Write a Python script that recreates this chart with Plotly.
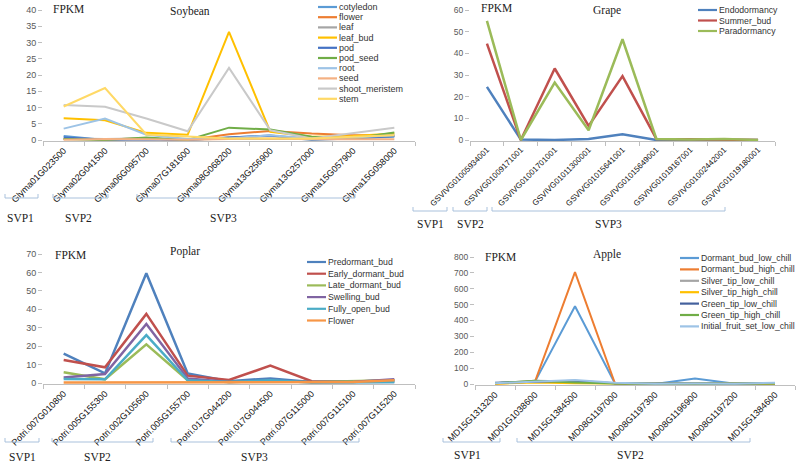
import plotly.graph_objects as go

W, H = 800, 464

# ---------------- DATA ----------------
soy_genes = ["Glyma01G023500", "Glyma02G041500", "Glyma06G095700", "Glyma07G181600",
             "Glyma08G068200", "Glyma13G256900", "Glyma13G257000", "Glyma15G057900",
             "Glyma15G058000"]
soy_cotyledon = [1.2, 0.0, 0.2, 0.0, 0.8, 1.3, 0.0, 0.5, 1.0]
soy_flower = [0.3, 0.2, 0.5, 0.0, 1.8, 2.8, 2.0, 1.5, 1.5]
soy_leaf = [0.5, 0.3, 0.5, 0.1, 0.5, 0.3, 0.5, 0.8, 1.2]
soy_leaf_bud = [6.7, 6.1, 2.2, 1.6, 33.3, 2.5, 1.0, 1.2, 2.0]
soy_pod = [0.8, 0.1, 0.2, 0.0, 0.8, 1.4, 0.2, 0.5, 1.2]
soy_pod_seed = [0.3, 0.0, 0.8, 0.0, 3.8, 3.2, 1.0, 0.5, 2.3]
soy_root = [3.5, 6.6, 1.6, 0.3, 0.5, 1.5, 0.5, 0.8, 1.5]
soy_seed = [0.1, 0.3, 0.2, 0.1, 0.3, 0.5, 0.2, 0.3, 0.2]
soy_shoot_meristem = [10.8, 10.2, 6.6, 2.7, 22.2, 3.0, 0.5, 2.2, 3.8]
soy_stem = [10.3, 16.0, 1.7, 1.0, 0.5, 0.5, 0.5, 1.0, 1.5]

grape_genes = ["GSVIVG01005934001", "GSVIVG01009171001", "GSVIVG01001701001",
               "GSVIVG01011300001", "GSVIVG01015641001", "GSVIVG01015649001",
               "GSVIVG01019167001", "GSVIVG01002442001", "GSVIVG01019180001"]
grape_endodormancy = [24.5, 0.2, 0.0, 0.5, 2.7, 0.0, 0.0, 0.0, 0.0]
grape_summer_bud = [44.5, 0.0, 33.0, 6.5, 29.5, 0.5, 0.3, 0.3, 0.0]
grape_paradormancy = [55.0, 0.0, 26.5, 4.5, 46.5, 0.5, 0.2, 0.5, 0.0]

poplar_genes = ["Potri.007G010800", "Potri.005G155300", "Potri.002G105600",
                "Potri.005G155700", "Potri.017G044200", "Potri.017G044500",
                "Potri.007G115000", "Potri.007G115100", "Potri.007G115200"]
pop_predormant = [16.0, 5.2, 59.5, 5.2, 1.0, 2.5, 0.5, 0.5, 0.5]
pop_early_dormant = [12.5, 8.5, 37.5, 4.0, 1.6, 9.4, 1.0, 0.8, 1.5]
pop_late_dormant = [5.8, 2.0, 21.0, 1.5, 0.5, 1.0, 0.5, 1.0, 1.5]
pop_swelling = [3.0, 4.9, 32.0, 2.5, 0.5, 1.0, 0.5, 0.5, 2.0]
pop_fully_open = [2.2, 2.0, 26.0, 1.5, 0.5, 1.5, 0.3, 0.5, 0.5]
pop_flower = [0.3, 0.3, 0.3, 0.3, 0.3, 0.3, 0.3, 0.5, 1.5]

apple_genes = ["MD15G1313200", "MD01G1038600", "MD15G1384500", "MD08G1197000",
               "MD08G1197300", "MD08G1196900", "MD08G1197200", "MD15G1384600"]
ap_dormant_low = [5, 15, 490, 3, 0, 35, 2, 5]
ap_dormant_high = [2, 15, 705, 3, 1, 2, 1, 3]
ap_silver_low = [5, 20, 15, 5, 2, 2, 2, 5]
ap_silver_high = [2, 10, 5, 2, 1, 1, 1, 2]
ap_green_low = [8, 12, 20, 5, 2, 3, 2, 5]
ap_green_high = [5, 20, 10, 3, 1, 2, 1, 3]
ap_initial_fruit = [5, 15, 25, 8, 2, 3, 2, 8]

# ---------------- STYLE ----------------
SERIF = "Liberation Serif, Times New Roman, serif"
SANS = "Liberation Sans, Arial, sans-serif"

panels = [
    dict(name="Soybean", genes=soy_genes, ymax=40, dtick=5,
         xpx=(43, 415), ypx=(140, 10), lw=2, tickfs=9, catfs=9, legfs=9,
         series=[("cotyledon", soy_cotyledon, "#5B9BD5"),
                 ("flower", soy_flower, "#ED7D31"),
                 ("leaf", soy_leaf, "#A5A5A5"),
                 ("leaf_bud", soy_leaf_bud, "#FFC000"),
                 ("pod", soy_pod, "#4472C4"),
                 ("pod_seed", soy_pod_seed, "#70AD47"),
                 ("root", soy_root, "#9DC3E6"),
                 ("seed", soy_seed, "#F4B183"),
                 ("shoot_meristem", soy_shoot_meristem, "#C9C9C9"),
                 ("stem", soy_stem, "#FFD966")],
         leg=(318, 7, 10.2), title=(190, 12), fpkm=(51, 9),
         brackets=[("SVP1", 5, 38, 20), ("SVP2", 53, 108, 78), ("SVP3", 137, 355, 223)],
         by=198, bly=218),
    dict(name="Grape", genes=grape_genes, ymax=60, dtick=10,
         xpx=(470, 775), ypx=(140, 10), lw=2.5, tickfs=8.5, catfs=8, legfs=8.7,
         series=[("Endodormancy", grape_endodormancy, "#4F81BD"),
                 ("Summer_bud", grape_summer_bud, "#C0504D"),
                 ("Paradormancy", grape_paradormancy, "#9BBB59")],
         leg=(698, 10, 10.5), title=(607, 10), fpkm=(479, 8),
         brackets=[("SVP1", 413, 447, 430), ("SVP2", 453, 487, 470), ("SVP3", 492, 725, 608)],
         by=211, bly=224),
    dict(name="Poplar", genes=poplar_genes, ymax=70, dtick=10,
         xpx=(43, 415), ypx=(383, 254), lw=2.5, tickfs=9, catfs=9, legfs=8.7,
         series=[("Predormant_bud", pop_predormant, "#4F81BD"),
                 ("Early_dormant_bud", pop_early_dormant, "#C0504D"),
                 ("Late_dormant_bud", pop_late_dormant, "#9BBB59"),
                 ("Swelling_bud", pop_swelling, "#8064A2"),
                 ("Fully_open_bud", pop_fully_open, "#4BACC6"),
                 ("Flower", pop_flower, "#F79646")],
         leg=(307, 262, 11.7), title=(185, 251), fpkm=(53, 255),
         brackets=[("SVP1", 5, 39, 22), ("SVP2", 52, 153, 97), ("SVP3", 171, 359, 255)],
         by=442, bly=457),
    dict(name="Apple", genes=apple_genes, ymax=800, dtick=100,
         xpx=(475, 795), ypx=(384, 257), lw=2, tickfs=8.5, catfs=9, legfs=8.7,
         series=[("Dormant_bud_low_chill", ap_dormant_low, "#5B9BD5"),
                 ("Dormant_bud_high_chill", ap_dormant_high, "#ED7D31"),
                 ("Silver_tip_low_chill", ap_silver_low, "#A5A5A5"),
                 ("Silver_tip_high_chill", ap_silver_high, "#FFC000"),
                 ("Green_tip_low_chill", ap_green_low, "#44619D"),
                 ("Green_tip_high_chill", ap_green_high, "#70AD47"),
                 ("Initial_fruit_set_low_chill", ap_initial_fruit, "#9DC3E6")],
         leg=(680, 258, 11.4), title=(607, 254), fpkm=(483, 257),
         brackets=[("SVP1", 443, 500, 467), ("SVP2", 517, 750, 630)],
         by=442, bly=455),
]


def px(x):
    return x / W


def py(y):
    return 1 - y / H


fig = go.Figure()
layout = dict(template="none", width=W, height=H, margin=dict(l=0, r=0, t=0, b=0, pad=0),
              paper_bgcolor="white", plot_bgcolor="white", showlegend=False,
              autosize=False)
shapes, annos = [], []
AXC = "#BFBFBF"

for i, p in enumerate(panels, start=1):
    xa = "x" if i == 1 else f"x{i}"
    ya = "y" if i == 1 else f"y{i}"
    xk = "xaxis" if i == 1 else f"xaxis{i}"
    yk = "yaxis" if i == 1 else f"yaxis{i}"
    n = len(p["genes"])
    y0px, y1px = p["ypx"]
    pad = 1.0  # px below zero so lines at 0 are not clipped
    unit = (y0px - y1px) / p["ymax"]
    for name, vals, col in p["series"]:
        fig.add_trace(go.Scatter(x=p["genes"], y=vals, mode="lines", name=name,
                                 line=dict(color=col, width=p["lw"]),
                                 xaxis=xa, yaxis=ya, hoverinfo="x+y+name"))
    layout[xk] = dict(domain=[px(p["xpx"][0]), px(p["xpx"][1])], anchor=ya,
                      type="category", range=[-0.5, n - 0.5], automargin=False,
                      tickson="boundaries", ticks="outside", ticklen=4,
                      tickcolor=AXC, showline=True, linecolor=AXC, linewidth=1,
                      showgrid=False, zeroline=False, tickangle=-45,
                      tickfont=dict(family=SANS, size=p["catfs"], color="#111"))
    layout[yk] = dict(domain=[py(y0px + pad), py(y1px)], anchor=xa, automargin=False,
                      range=[-pad / unit, p["ymax"]], dtick=p["dtick"], tick0=0,
                      ticks="outside", ticklen=4, tickcolor=AXC,
                      showline=False, showgrid=False, zeroline=False,
                      tickfont=dict(family=SANS, size=p["tickfs"], color="#595959"))
    # titles
    annos.append(dict(text=p["name"], x=px(p["title"][0]), y=py(p["title"][1]),
                      xref="paper", yref="paper", xanchor="center", yanchor="middle",
                      showarrow=False, font=dict(family=SERIF, size=11.5, color="#222")))
    annos.append(dict(text="FPKM", x=px(p["fpkm"][0]), y=py(p["fpkm"][1]),
                      xref="paper", yref="paper", xanchor="left", yanchor="middle",
                      showarrow=False, font=dict(family=SERIF, size=11.5, color="#222")))
    # legend (drawn as line samples + labels)
    lx, ly, ls = p["leg"]
    for k, (name, vals, col) in enumerate(p["series"]):
        yy = ly + k * ls
        shapes.append(dict(type="line", xref="paper", yref="paper",
                           x0=px(lx), x1=px(lx + 19), y0=py(yy), y1=py(yy),
                           line=dict(color=col, width=2.2)))
        annos.append(dict(text=name, x=px(lx + 19), y=py(yy), xref="paper", yref="paper",
                          xanchor="left", yanchor="middle", showarrow=False,
                          font=dict(family=SANS, size=p["legfs"], color="#333")))
    # brackets
    by = p["by"]
    for lab, bx0, bx1, lcx in p["brackets"]:
        path = (f"M {px(bx0)},{py(by - 4)} L {px(bx0)},{py(by)} "
                f"L {px(bx1)},{py(by)} L {px(bx1)},{py(by - 4)}")
        shapes.append(dict(type="path", xref="paper", yref="paper", path=path,
                           line=dict(color="#A9C1DC", width=1)))
        annos.append(dict(text=lab, x=px(lcx), y=py(p["bly"]), xref="paper", yref="paper",
                          xanchor="center", yanchor="middle", showarrow=False,
                          font=dict(family=SERIF, size=11.5, color="#222")))

layout["shapes"] = shapes
layout["annotations"] = annos
fig.update_layout(**layout)
fig.write_html("out.html", config={"displayModeBar": False},
               post_script="document.body.style.margin='0';document.body.style.overflow='hidden';")
